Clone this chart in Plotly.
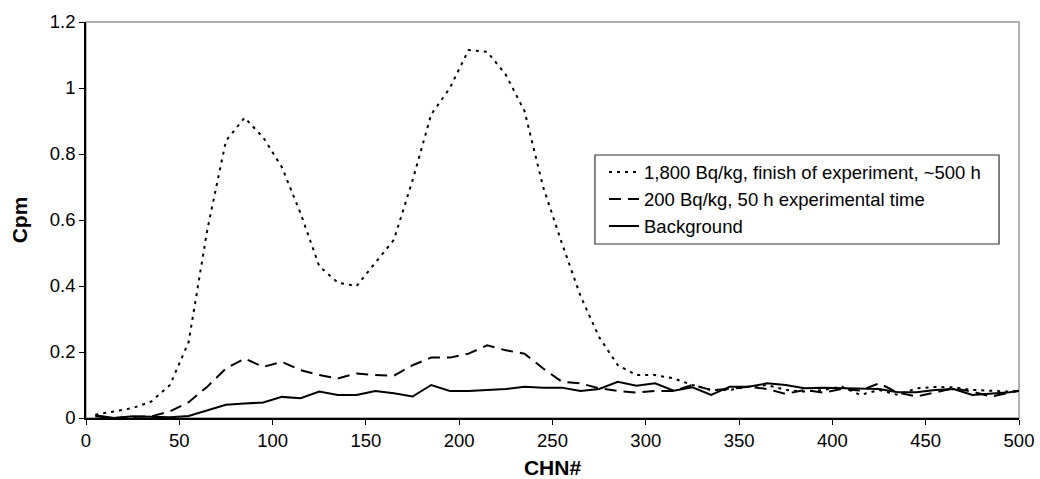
import plotly.graph_objects as go

chn = [5, 15, 25, 35, 45, 55, 65, 75, 85, 95,
       105, 115, 125, 135, 145, 155, 165, 175, 185, 195,
       205, 215, 225, 235, 245, 255, 265, 275, 285, 295,
       305, 315, 325, 335, 345, 355, 365, 375, 385, 395,
       405, 415, 425, 435, 445, 455, 465, 475, 485, 495, 500]

cpm_1800 = [0.01, 0.02, 0.03, 0.05, 0.10, 0.23, 0.57, 0.84, 0.91, 0.85,
            0.76, 0.62, 0.46, 0.41, 0.40, 0.47, 0.54, 0.72, 0.92, 1.00,
            1.115, 1.11, 1.04, 0.93, 0.70, 0.53, 0.37, 0.245, 0.16, 0.13,
            0.13, 0.12, 0.10, 0.085, 0.085, 0.095, 0.10, 0.085, 0.08, 0.085,
            0.095, 0.07, 0.085, 0.07, 0.09, 0.094, 0.093, 0.085, 0.082, 0.08, 0.083]

cpm_200 = [0.005, 0.0, 0.003, 0.005, 0.02, 0.048, 0.095, 0.15, 0.18, 0.155,
           0.17, 0.145, 0.13, 0.12, 0.135, 0.13, 0.128, 0.16, 0.183, 0.183,
           0.195, 0.22, 0.205, 0.195, 0.15, 0.11, 0.105, 0.09, 0.082, 0.077,
           0.082, 0.082, 0.10, 0.085, 0.088, 0.095, 0.088, 0.073, 0.085, 0.077,
           0.088, 0.083, 0.105, 0.077, 0.065, 0.077, 0.09, 0.08, 0.065, 0.077, 0.082]

cpm_bg = [0.008, 0.0, 0.005, 0.003, 0.002, 0.006, 0.024, 0.04, 0.044, 0.047,
          0.064, 0.06, 0.08, 0.07, 0.07, 0.082, 0.075, 0.065, 0.10, 0.082,
          0.082, 0.085, 0.088, 0.095, 0.092, 0.092, 0.082, 0.088, 0.11, 0.098,
          0.105, 0.083, 0.093, 0.07, 0.095, 0.095, 0.105, 0.10, 0.09, 0.092,
          0.09, 0.088, 0.088, 0.078, 0.078, 0.085, 0.088, 0.07, 0.075, 0.078, 0.083]

names = ["1,800 Bq/kg, finish of experiment, ~500 h",
         "200 Bq/kg, 50 h experimental time",
         "Background"]

x_ticks = [0, 50, 100, 150, 200, 250, 300, 350, 400, 450, 500]
y_ticks = [0, 0.2, 0.4, 0.6, 0.8, 1.0, 1.2]

FONT = "Liberation Sans, Arial, sans-serif"

fig = go.Figure()
fig.add_trace(go.Scatter(x=chn, y=cpm_1800, mode="lines", name=names[0],
                         line=dict(color="black", width=2, dash="3px,5px")))
fig.add_trace(go.Scatter(x=chn, y=cpm_200, mode="lines", name=names[1],
                         line=dict(color="black", width=2, dash="12px,7px")))
fig.add_trace(go.Scatter(x=chn, y=cpm_bg, mode="lines", name=names[2],
                         line=dict(color="black", width=2)))

fig.update_layout(
    width=1040, height=479,
    margin=dict(l=86, r=21, t=22, b=61, autoexpand=False),
    paper_bgcolor="white", plot_bgcolor="white",
    font=dict(family=FONT, size=18.5, color="black"),
    showlegend=True,
    legend=dict(x=0.5552, y=0.5518, xanchor="left", yanchor="middle",
                bgcolor="rgba(0,0,0,0)", borderwidth=0,
                font=dict(size=18.5), itemwidth=30, tracegroupgap=0),
    shapes=[
        dict(type="rect", xref="paper", yref="paper", x0=0, y0=0, x1=1, y1=1,
             line=dict(color="#999999", width=1.5), layer="below"),
        dict(type="rect", xref="paper", yref="paper", x0=0.5455, y0=0.4394, x1=0.9786, y1=0.6641,
             line=dict(color="#333333", width=1.2), fillcolor="white", layer="above"),
    ],
)
fig.update_xaxes(range=[0, 500], tickvals=x_ticks, automargin=False,
                 showgrid=False, zeroline=False, showline=True, linecolor="black", linewidth=1.5,
                 ticks="outside", ticklen=5, tickcolor="black",
                 title=dict(text="<b>CHN#</b>", font=dict(size=21), standoff=15))
fig.update_yaxes(range=[0, 1.2], tickvals=y_ticks, automargin=False,
                 showgrid=False, zeroline=False, showline=True, linecolor="black", linewidth=1.5,
                 ticks="outside", ticklen=5, tickcolor="black",
                 title=dict(text="<b>Cpm</b>", font=dict(size=21), standoff=16))

fig.write_html("out.html")
